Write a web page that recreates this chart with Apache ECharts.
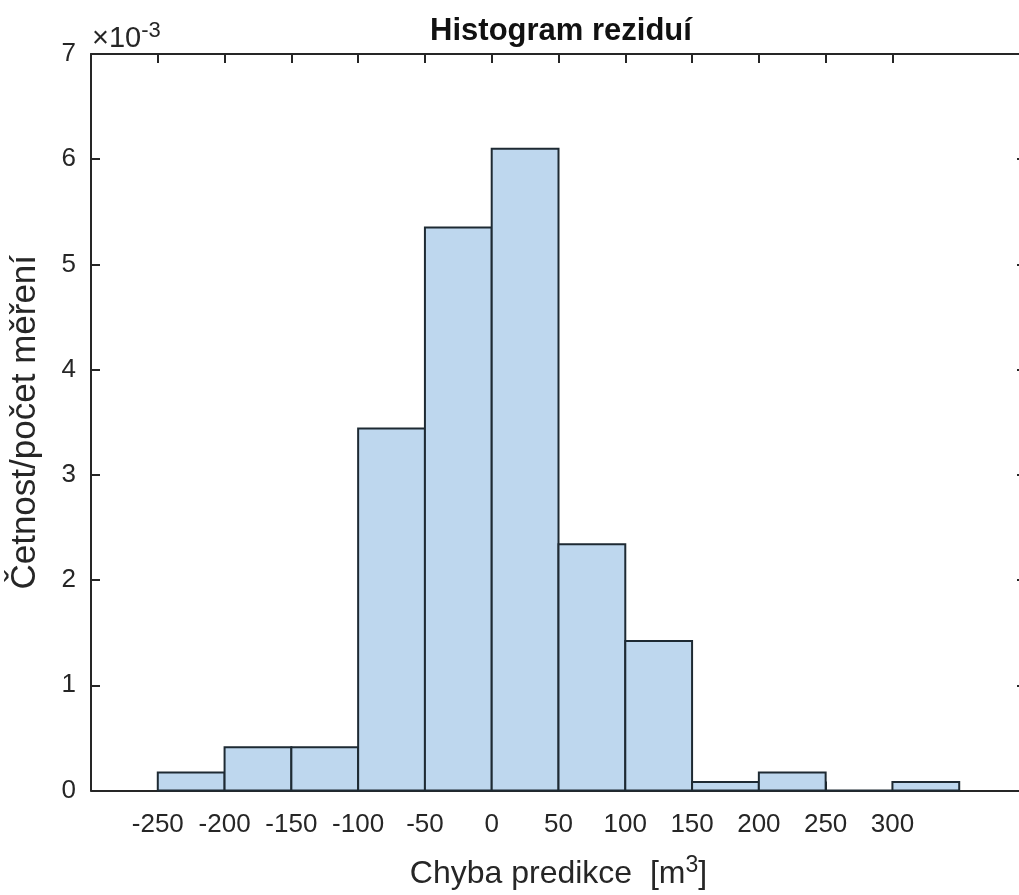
<!DOCTYPE html>
<html lang="cs">

<head>
    <meta charset="UTF-8">
    <title>Histogram reziduí</title>
    <script src="https://cdn.jsdelivr.net/npm/echarts@6/dist/echarts.min.js"></script>
    <style>
        html, body { margin: 0; background: #fff; overflow: hidden; }
        /* the original figure is cut off on the right, so the chart is a bit wider than the window */
        #chart { width: 1026px; height: 895px; }
    </style>
</head>

<body onload="setup()">
    <div id="chart"></div>
    <script>
        // bins of the histogram (m^3), width 50
        var binStart = [-250, -200, -150, -100, -50, 0, 50, 100, 150, 200, 250, 300]
        var binEnd = [-200, -150, -100, -50, 0, 50, 100, 150, 200, 250, 300, 350]
        // frequency / number of measurements, in units of 10^-3
        var densityE3 = [0.17, 0.41, 0.41, 3.44, 5.35, 6.10, 2.34, 1.42, 0.08, 0.17, 0, 0.08]
        var xTicks = [-250, -200, -150, -100, -50, 0, 50, 100, 150, 200, 250, 300]
        var yTicks = [0, 1, 2, 3, 4, 5, 6, 7]

        var axisColor = '#262626'
        var font = "'Liberation Sans', Arial, sans-serif"

        function boxAxisLine() {
            return { show: true, onZero: false, lineStyle: { color: axisColor, width: 2 } }
        }

        function setup() {
            var chart = echarts.init(document.getElementById('chart'))

            var bars = []
            for (var i = 0; i < binStart.length; i++) {
                bars.push([binStart[i], binEnd[i], densityE3[i]])
            }

            var option = {
                animation: false,
                backgroundColor: '#fff',
                title: {
                    text: 'Histogram reziduí',
                    left: 556,
                    top: 11,
                    textAlign: 'center',
                    textStyle: { fontFamily: font, fontWeight: 'bold', fontSize: 31, color: '#111' }
                },
                grid: { left: 90, right: 0, top: 54, bottom: 104 },
                xAxis: [{
                    type: 'value',
                    min: -300,
                    max: 400,
                    interval: 50,
                    position: 'bottom',
                    name: 'Chyba predikce  [m{sup|3}]',
                    nameLocation: 'middle',
                    nameGap: 64,
                    nameTextStyle: {
                        fontFamily: font, fontSize: 32, color: axisColor,
                        rich: { sup: { fontFamily: font, fontSize: 23, color: axisColor, padding: [0, 0, 16, 0] } }
                    },
                    axisLine: boxAxisLine(),
                    axisTick: { show: true, inside: true, length: 9, customValues: xTicks, lineStyle: { color: axisColor, width: 2 } },
                    axisLabel: { customValues: xTicks, margin: 21, fontFamily: font, fontSize: 26, color: axisColor },
                    splitLine: { show: false }
                }, {
                    type: 'value',
                    min: -300,
                    max: 400,
                    interval: 50,
                    position: 'top',
                    axisLine: boxAxisLine(),
                    axisTick: { show: true, inside: true, length: 9, customValues: xTicks, lineStyle: { color: axisColor, width: 2 } },
                    axisLabel: { show: false },
                    splitLine: { show: false }
                }],
                yAxis: [{
                    type: 'value',
                    min: 0,
                    max: 7,
                    interval: 1,
                    position: 'left',
                    name: 'Četnost/počet měření',
                    nameLocation: 'middle',
                    nameRotate: 90,
                    nameGap: 48,
                    nameTextStyle: { fontFamily: font, fontSize: 35, color: axisColor },
                    axisLine: boxAxisLine(),
                    axisTick: { show: true, inside: true, length: 9, customValues: yTicks, lineStyle: { color: axisColor, width: 2 } },
                    axisLabel: { customValues: yTicks, margin: 15, fontFamily: font, fontSize: 26, color: axisColor },
                    splitLine: { show: false }
                }, {
                    type: 'value',
                    min: 0,
                    max: 7,
                    interval: 1,
                    position: 'right',
                    axisLine: boxAxisLine(),
                    axisTick: { show: true, inside: true, length: 9, customValues: yTicks, lineStyle: { color: axisColor, width: 2 } },
                    axisLabel: { show: false },
                    splitLine: { show: false }
                }],
                graphic: [{
                    type: 'text',
                    left: 92,
                    top: 20,
                    style: {
                        text: '{a|×10}{b|-3}',
                        rich: {
                            a: { fontFamily: font, fontSize: 29, fill: axisColor },
                            b: { fontFamily: font, fontSize: 22, fill: axisColor, padding: [0, 0, 16, 0] }
                        }
                    }
                }],
                series: [{
                    type: 'custom',
                    xAxisIndex: 0,
                    yAxisIndex: 0,
                    data: bars,
                    encode: { x: [0, 1], y: 2 },
                    renderItem: function (params, api) {
                        var p0 = api.coord([api.value(0), api.value(2)])
                        var p1 = api.coord([api.value(1), 0])
                        return {
                            type: 'rect',
                            shape: { x: p0[0], y: p0[1], width: p1[0] - p0[0], height: p1[1] - p0[1] },
                            style: { fill: '#bed7ee', stroke: '#1e2a33', lineWidth: 2 }
                        }
                    }
                }]
            }

            chart.setOption(option)
        }
    </script>
</body>

</html>
